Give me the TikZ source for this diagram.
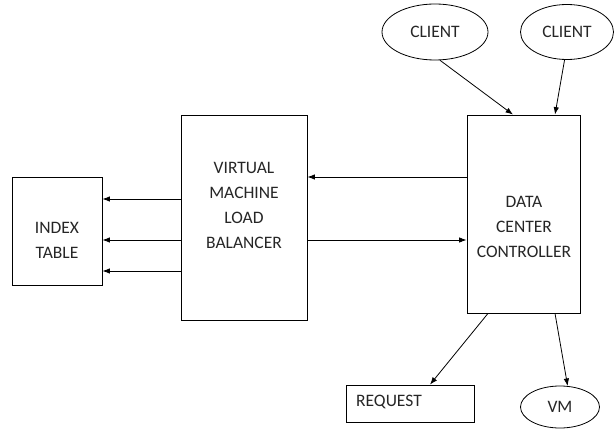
\documentclass[tikz,border=0pt]{standalone}
\usepackage{fontspec}
\setmainfont{Carlito}
\usetikzlibrary{arrows.meta,shapes.geometric,calc}
\begin{document}
\begin{tikzpicture}[x=1pt,y=-1pt,
  box/.style={draw, line width=0.8pt, inner sep=0pt},
  oval/.style={draw, ellipse, line width=0.8pt, inner sep=0pt, font=\fontsize{17.5}{25}\selectfont, text=black!85},
  txt/.style={font=\fontsize{17.5}{25}\selectfont, text=black!85, align=center, inner sep=0pt},
  arr/.style={line width=0.8pt, -{Latex[length=7.5pt,width=5.5pt]}}]
\useasboundingbox (0,0) rectangle (615,430);
% boxes
\node[box, minimum width=90pt, minimum height=108pt] (idx) at (57,231) {};
\node[txt] (idxt) at (57,240) {INDEX\\TABLE};
\node[box, minimum width=126pt, minimum height=205pt] (lb) at (244,217.5) {};
\node[txt] (lbt) at (244,205.5) {VIRTUAL\\MACHINE\\LOAD\\BALANCER};
\node[box, minimum width=113pt, minimum height=198pt] (dcc) at (523.5,214) {};
\node[txt] (dcct) at (524,227) {DATA\\CENTER\\CONTROLLER};
\node[box, minimum width=128pt, minimum height=37pt] (req) at (410,403.5) {};
\node[txt, anchor=west] (reqt) at (356,402) {REQUEST};
% ellipses
\node[oval, minimum width=106pt, minimum height=56pt] (c1) at (435,32) {CLIENT};
\node[oval, minimum width=93pt, minimum height=55pt] (c2) at (567,32) {CLIENT};
\node[oval, minimum width=79pt, minimum height=42pt] (vm) at (560,407) {VM};
% connectors
\draw[arr] (lb.west |- 0,199) -- (idx.east |- 0,199);
\draw[arr] (lb.west |- 0,240) -- (idx.east |- 0,240);
\draw[arr] (lb.west |- 0,271) -- (idx.east |- 0,271);
\draw[arr] (dcc.west |- 0,177) -- (lb.east |- 0,177);
\draw[arr] (lb.east |- 0,240) -- (dcc.west |- 0,240);
\draw[arr] (c1.-80) -- (513,0 |- dcc.north);
\draw[arr] (c2.-95) -- (555,0 |- dcc.north);
\draw[arr] (488,0 |- dcc.south) -- (430,0 |- req.north);
\draw[arr] (555,0 |- dcc.south) -- (vm.70);
\end{tikzpicture}
\end{document}
